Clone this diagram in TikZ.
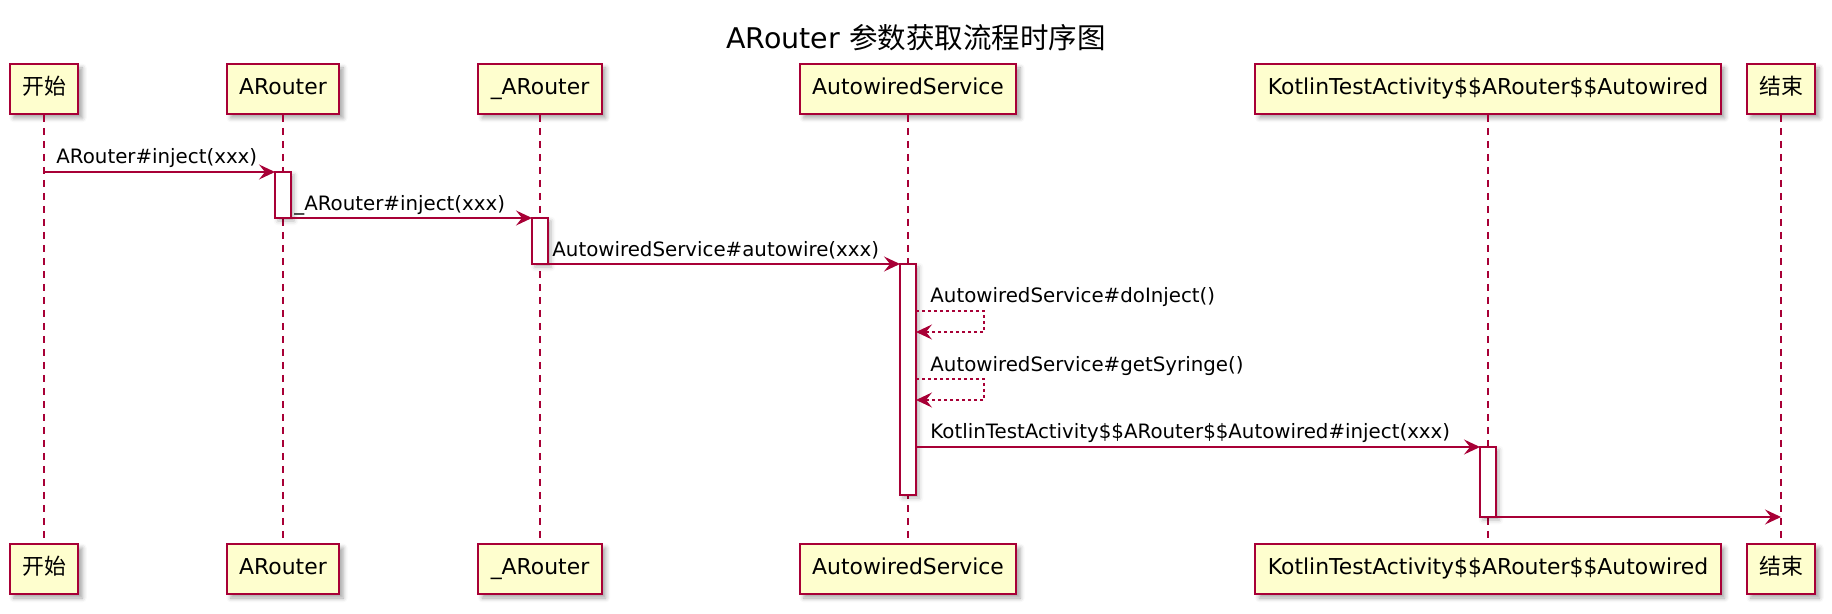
\documentclass[tikz,border=0pt]{standalone}
\usepackage{fontspec}
\setmainfont{DejaVu Sans}
\newfontfamily\cjk{Noto Sans CJK SC}
\usepackage{tikz}
\usetikzlibrary{arrows.meta, positioning, calc, shadows.blur}
\definecolor{pred}{HTML}{A80036}
\definecolor{pyellow}{HTML}{FEFECE}

\tikzset{
  actor/.style={draw=pred, fill=pyellow, line width=1pt, minimum height=25pt, inner xsep=6.25pt,
    text height=8.2pt, text depth=2.4pt, font=\fontsize{10.95}{12}\selectfont,
    blur shadow={shadow xshift=2pt, shadow yshift=-2pt, shadow opacity=35, shadow blur steps=4}},
  activebar/.style={draw=pred, fill=white, line width=0.7pt, minimum width=8pt, inner sep=0pt, outer sep=0pt,
    blur shadow={shadow xshift=1.5pt, shadow yshift=-1.5pt, shadow opacity=30, shadow blur steps=3}},
  lifeline/.style={pred, line width=0.6pt, dash pattern=on 3.5pt off 3pt},
  msg/.style={pred, line width=0.7pt, -{Stealth[length=8pt, width=7.5pt, inset=3pt]}},
  selfmsg/.style={msg, dash pattern=on 1.5pt off 1.5pt},
  msglabel/.style={font=\fontsize{9.9}{11}\selectfont, anchor=base west, inner sep=0pt},
}

\begin{document}
\begin{tikzpicture}[x=0.5pt, y=-0.5pt]
\useasboundingbox (0,0) rectangle (1832,614);
\node[font=\fontsize{14.25}{16}\selectfont] (title) at (916,38) {ARouter {\cjk 参数获取流程时序图}};
% participants
\node[actor] (starttop) at (44,89) {\cjk 开始};
\node[actor] (aroutertop) at (283,89) {ARouter};
\node[actor] (innertop) at (540,89) {\_ARouter};
\node[actor] (servicetop) at (908,89) {AutowiredService};
\node[actor] (kotlintop) at (1488,89) {KotlinTestActivity\$\$ARouter\$\$Autowired};
\node[actor] (endtop) at (1781,89) {\cjk 结束};
\node[actor] (startbot) at (44,569) {\cjk 开始};
\node[actor] (arouterbot) at (283,569) {ARouter};
\node[actor] (innerbot) at (540,569) {\_ARouter};
\node[actor] (servicebot) at (908,569) {AutowiredService};
\node[actor] (kotlinbot) at (1488,569) {KotlinTestActivity\$\$ARouter\$\$Autowired};
\node[actor] (endbot) at (1781,569) {\cjk 结束};
\foreach \p in {start, arouter, inner, service, kotlin, end}
  \draw[lifeline] (\p top) -- (\p bot);
% activations
\node[activebar, minimum height=23pt] (barA) at (283,195) {};
\node[activebar, minimum height=23pt] (barB) at (540,241) {};
\node[activebar, minimum height=115.5pt] (barC) at (908,379.5) {};
\node[activebar, minimum height=35pt] (barD) at (1488,482) {};
% messages
\draw[msg] (starttop |- barA.north) -- (barA.north west);
\node[msglabel] (lblA) at (56,164) {ARouter\#inject(xxx)};
\draw[msg] (barA.south east) -- (barB.north west);
\node[msglabel] (lblB) at (294,211) {\_ARouter\#inject(xxx)};
\draw[msg] (barB.south east) -- (barC.north west);
\node[msglabel] (lblC) at (552,257) {AutowiredService\#autowire(xxx)};
\coordinate (doinject) at ($(barC.north east)+(0,47)$);
\draw[selfmsg] (doinject) -- ++(68,0) -- ++(0,21) -- ++(-68,0);
\node[msglabel] (lblD) at (930,303) {AutowiredService\#doInject()};
\coordinate (syringe) at ($(barC.north east)+(0,115)$);
\draw[selfmsg] (syringe) -- ++(68,0) -- ++(0,21) -- ++(-68,0);
\node[msglabel] (lblE) at (930,371.5) {AutowiredService\#getSyringe()};
\draw[msg] (barC.east |- barD.north) -- (barD.north west);
\node[msglabel] (lblF) at (930,439) {KotlinTestActivity\$\$ARouter\$\$Autowired\#inject(xxx)};
\draw[msg] (barD.south east) -- (endtop |- barD.south);
\end{tikzpicture}
\end{document}
